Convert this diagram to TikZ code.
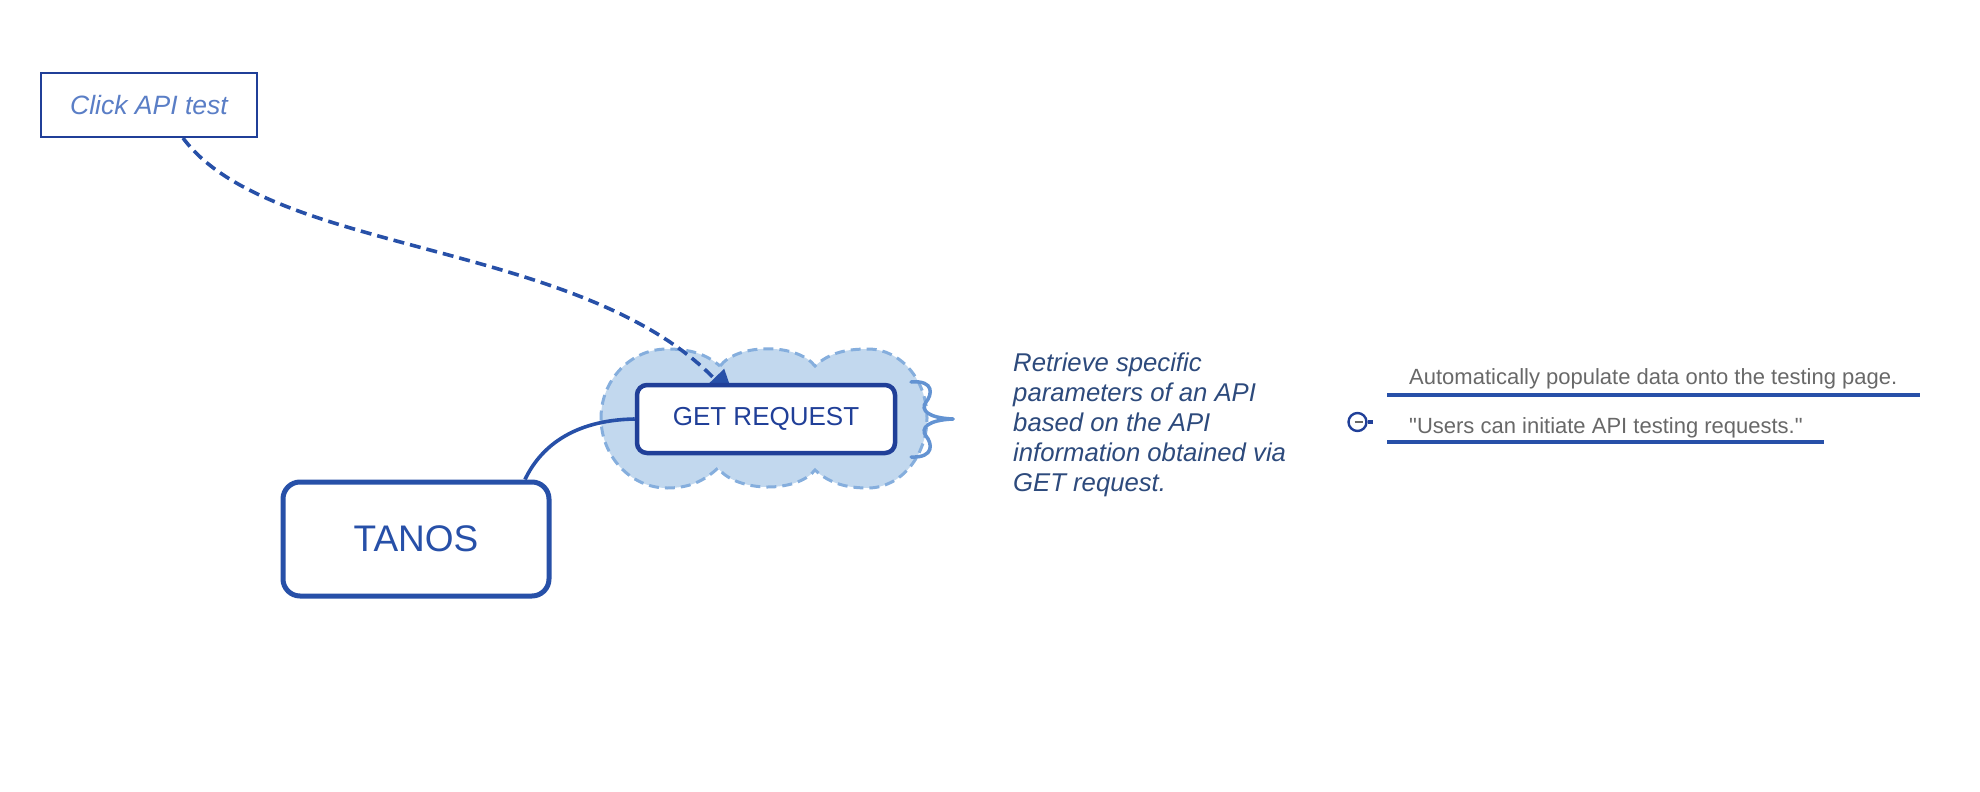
\documentclass[tikz,border=0pt]{standalone}
\usepackage{fontspec}
\setmainfont{Liberation Sans}
\newfontfamily\graysans{Liberation Sans}
\usetikzlibrary{arrows.meta,calc}
\definecolor{dblue}{HTML}{2750A8}
\definecolor{gblue}{HTML}{203F98}
\definecolor{clicktxt}{HTML}{5A7EC6}
\definecolor{desctxt}{HTML}{2D4A7C}
\definecolor{graytxt}{HTML}{686868}
\definecolor{cloudfill}{HTML}{C2D8EE}
\definecolor{cloudline}{HTML}{85AEDD}
\definecolor{bracecol}{HTML}{6393D2}
\pgfdeclarelayer{bg}
\pgfdeclarelayer{mid}
\pgfsetlayers{bg,mid,main}
\begin{document}
\begin{tikzpicture}[x=1pt,y=-1pt,
  clickbox/.style={draw=gblue,line width=2pt,fill=white,minimum width=216pt,minimum height=64pt,inner sep=0pt,
    text=clicktxt,font=\fontsize{26.5}{30}\selectfont\itshape},
  getbox/.style={draw=gblue,line width=4.5pt,fill=white,rounded corners=10pt,minimum width=258pt,minimum height=68pt,inner sep=0pt,
    text=gblue,font=\fontsize{26}{30}\selectfont},
  tanosbox/.style={draw=dblue,line width=5pt,fill=white,rounded corners=17pt,minimum width=266pt,minimum height=114pt,inner sep=0pt,
    text=dblue,font=\fontsize{37}{42}\selectfont},
  desc/.style={text=desctxt,align=left,inner sep=0pt,font=\fontsize{25.7}{30}\selectfont\itshape},
  grayt/.style={text=graytxt,inner sep=0pt,font=\graysans\fontsize{22}{26}\selectfont},
  uline/.style={draw=dblue,line width=3.8pt},
  conn/.style={draw=dblue,line width=3.6pt},
  dashconn/.style={draw=dblue,line width=3.6pt,dash pattern=on 11pt off 6pt,-{Triangle[length=30pt,width=27pt]}},
  cloudst/.style={fill=cloudfill,draw=cloudline,line width=3pt,dash pattern=on 10pt off 6pt},
  bracest/.style={draw=bracecol,line width=3.5pt,line cap=round},
]
\useasboundingbox (0,0) rectangle (1980,792);

% nodes
\node[clickbox] (click) at (149,105) {Click API test};
\node[getbox] (get) at (766,419) {GET REQUEST};
\node[tanosbox] (tanos) at (416,539) {TANOS};
\node[desc,anchor=north west] (desc) at (1013,353) {Retrieve specific\\parameters of an API\\based on the API\\information obtained via\\GET request.};
\node[grayt,anchor=base west] (auto) at (1409,384) {Automatically populate data onto the testing page.};
\node[grayt,anchor=base west] (users) at (1409,433) {"Users can initiate API testing requests."};
\node[circle,draw=gblue,line width=2.4pt,fill=white,minimum size=18pt,inner sep=0pt] (icon) at (1357.5,422) {};
\draw[graytxt,line width=2pt] ($(icon.center)+(-3,0)$) -- ($(icon.center)+(5,0)$);

% coordinates
\coordinate (cstart) at ($(click.south)+(34,0)$);
\coordinate (gtip) at (735,400);
\coordinate (tstart) at ($(tanos.north)+(109,0)$);
\coordinate (btop) at (911,382);
\coordinate (btip) at (953,419);
\coordinate (bbot) at (911,457);
\coordinate (iconend) at (1373,422);
\coordinate (u1a) at (1387,395);
\coordinate (u1b) at (1920,395);
\coordinate (u2a) at (1387,442);
\coordinate (u2b) at (1824,442);

% cloud
\begin{pgfonlayer}{bg}
\path[cloudst] (720,366) .. controls (738,343) and (797,343) .. (815,366)
  .. controls (830,352) and (848,349) .. (868,349)
  .. controls (900.6,349) and (927,379.9) .. (927,418)
  .. controls (927,456) and (900.6,488) .. (868,488)
  .. controls (848,488) and (830,484) .. (815,470)
  .. controls (797,493) and (737,493) .. (718,468)
  .. controls (703,482) and (688,488) .. (667,488)
  .. controls (630.6,488) and (601,456) .. (601,418)
  .. controls (601,380) and (630.6,349) .. (667,349)
  .. controls (690,349) and (706,354) .. (720,366) -- cycle;
\end{pgfonlayer}

% connectors
\begin{pgfonlayer}{mid}
\draw[dashconn] (cstart) .. controls (270,255) and (580,240) .. (gtip);
\draw[conn] (tstart) .. controls (540,448) and (572,420) .. (get.west);
\draw[bracest] (btop) .. controls (935,380) and (932,395) .. (926,402)
  .. controls (920,410) and (928,418) .. (btip);
\draw[bracest] (btip) .. controls (928,420) and (920,428) .. (926,436)
  .. controls (932,443) and (935,458) .. (bbot);
\end{pgfonlayer}
\draw[gblue,line width=3.2pt] (icon.east) -- (iconend);
\draw[uline] (u1a) -- (u1b);
\draw[uline] (u2a) -- (u2b);
\end{tikzpicture}
\end{document}
